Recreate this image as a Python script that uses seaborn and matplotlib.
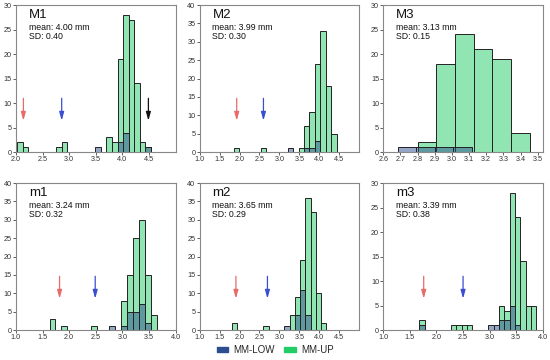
import matplotlib
matplotlib.use("Agg")
import matplotlib.pyplot as plt
import matplotlib.patches as mpatches
from matplotlib.ticker import FormatStrFormatter
import numpy as np
import pandas as pd
import seaborn as sns

# Panel names and stats
panels = ["M1", "M2", "M3", "m1", "m2", "m3"]
means = ["4.00", "3.99", "3.13", "3.24", "3.65", "3.39"]
sds = ["0.40", "0.30", "0.15", "0.32", "0.29", "0.38"]

# Histogram bins (first edge, bin width) and counts per series
up_start = [2.02, 1.857, 2.80, 1.631, 1.804, 1.675]
low_start = [2.02, 1.857, 2.683, 1.631, 1.804, 1.675]
bin_width = [0.105, 0.1355, 0.1087, 0.112, 0.132, 0.1]

up_M1 = [2, 1, 0, 0, 0, 0, 0, 1, 2, 0, 0, 0, 0, 0, 0, 0, 3, 2, 19, 28, 27, 14, 2, 1]
low_M1 = [0, 0, 0, 0, 0, 0, 0, 0, 0, 0, 0, 0, 0, 0, 1, 0, 0, 0, 2, 4, 0, 0, 0, 1]
up_M2 = [1, 0, 0, 0, 0, 1, 0, 0, 0, 0, 0, 0, 1, 7, 11, 24, 33, 18, 5]
low_M2 = [0, 0, 0, 0, 0, 0, 0, 0, 0, 0, 1, 0, 0, 1, 1, 3, 0, 0, 0]
up_M3 = [2, 18, 24, 21, 19, 4]
low_M3 = [1, 1, 1, 1]
up_m1 = [3, 0, 1, 0, 0, 0, 0, 1, 0, 0, 0, 0, 8, 15, 25, 30, 15, 4]
low_m1 = [0, 0, 0, 0, 0, 0, 0, 0, 0, 0, 1, 0, 1, 5, 5, 7, 2, 0]
up_m2 = [2, 0, 0, 0, 0, 0, 1, 0, 0, 0, 0, 4, 9, 19, 36, 32, 10, 2]
low_m2 = [0, 0, 0, 0, 0, 0, 0, 0, 0, 0, 1, 0, 4, 11, 4, 0, 0, 0]
up_m3 = [2, 0, 0, 0, 0, 0, 1, 1, 1, 1, 0, 0, 0, 0, 0, 5, 4, 28, 23, 14, 5, 5]
low_m3 = [1, 0, 0, 0, 0, 0, 0, 0, 0, 0, 0, 0, 0, 1, 1, 2, 2, 5, 1, 0, 0, 0]

up_counts = [up_M1, up_M2, up_M3, up_m1, up_m2, up_m3]
low_counts = [low_M1, low_M2, low_M3, low_m1, low_m2, low_m3]

# Arrow positions (x) per panel: red, blue, black
red_arrow = [2.14, 1.93, None, 1.82, 1.91, 1.76]
blue_arrow = [2.86, 2.60, None, 2.49, 2.70, 2.50]
black_arrow = [4.49, None, None, None, None, None]

# Axis settings
x_lims = [(2.0, 5.0), (1.0, 5.0), (2.6, 3.53), (1.0, 4.0), (1.0, 5.0), (1.0, 4.0)]
x_ticks = [np.arange(2.0, 4.51, 0.5), np.arange(1.0, 4.51, 0.5), np.arange(2.6, 3.51, 0.1),
           np.arange(1.0, 4.01, 0.5), np.arange(1.0, 4.51, 0.5), np.arange(1.0, 4.01, 0.5)]
y_max = [30, 40, 30, 40, 40, 30]

color_low = "#2c4e8e"
color_up = "#22cc66"

sns.set_style("white")
plt.rcParams["font.family"] = ["Liberation Sans", "DejaVu Sans"]

fig, axes = plt.subplots(2, 3, figsize=(5.5, 3.6), dpi=100)
fig.subplots_adjust(left=0.029, right=0.987, top=0.986, bottom=0.083,
                    wspace=0.151, hspace=0.21)


def draw_hist(ax, start, width, counts, color):
    counts = np.array(counts, dtype=float)
    edges = start + width * np.arange(len(counts) + 1)
    centers = (edges[:-1] + edges[1:]) / 2
    df = pd.DataFrame({"x": centers, "w": counts})
    n_before = len(ax.patches)
    sns.histplot(data=df, x="x", weights="w", bins=edges.tolist(), ax=ax,
                 color=color, alpha=0.5, edgecolor="#222222", linewidth=0.7)
    # hide empty bins
    for p in ax.patches[n_before:]:
        if p.get_height() == 0:
            p.set_visible(False)


for i, ax in enumerate(axes.flat):
    draw_hist(ax, up_start[i], bin_width[i], up_counts[i], color_up)
    draw_hist(ax, low_start[i], bin_width[i], low_counts[i], color_low)

    ax.set_xlim(x_lims[i])
    ax.set_ylim(0, y_max[i])
    ax.set_xticks(x_ticks[i])
    ax.set_yticks(np.arange(0, y_max[i] + 1, 5))
    ax.xaxis.set_major_formatter(FormatStrFormatter("%.1f"))
    ax.set_xlabel("")
    ax.set_ylabel("")
    ax.tick_params(axis="both", labelsize=5.2, length=2, width=0.6, pad=1,
                   colors="#444444", labelcolor="#333333", direction="out")
    ax.tick_params(bottom=True, left=True)
    for s in ax.spines.values():
        s.set_color("#888888")
        s.set_linewidth(0.8)

    ax.text(0.08, 0.975, panels[i], transform=ax.transAxes, fontsize=9.5,
            va="top", ha="left", color="#111111")
    ax.text(0.08, 0.875, "mean: %s mm\nSD: %s" % (means[i], sds[i]),
            transform=ax.transAxes, fontsize=6.3, va="top", ha="left",
            linespacing=1.0, color="#111111")

    for xs, c in [(red_arrow[i], "#e86a6a"), (blue_arrow[i], "#3a4fd0"),
                  (black_arrow[i], "#111111")]:
        if xs is None:
            continue
        ax.annotate("", xy=(xs, 0.195), xytext=(xs, 0.385),
                    xycoords=("data", "axes fraction"),
                    textcoords=("data", "axes fraction"),
                    arrowprops=dict(arrowstyle="-|>,head_length=0.5,head_width=0.14",
                                    color=c, lw=0.9))

handles = [mpatches.Patch(color=color_low, label="MM-LOW"),
           mpatches.Patch(color=color_up, label="MM-UP")]
fig.legend(handles=handles, loc="lower center", bbox_to_anchor=(0.5, -0.01),
           ncol=2, frameon=False, fontsize=7, handlelength=1.2,
           handleheight=0.5, columnspacing=1.0, handletextpad=0.5)

fig.savefig("out.png", dpi=100)
